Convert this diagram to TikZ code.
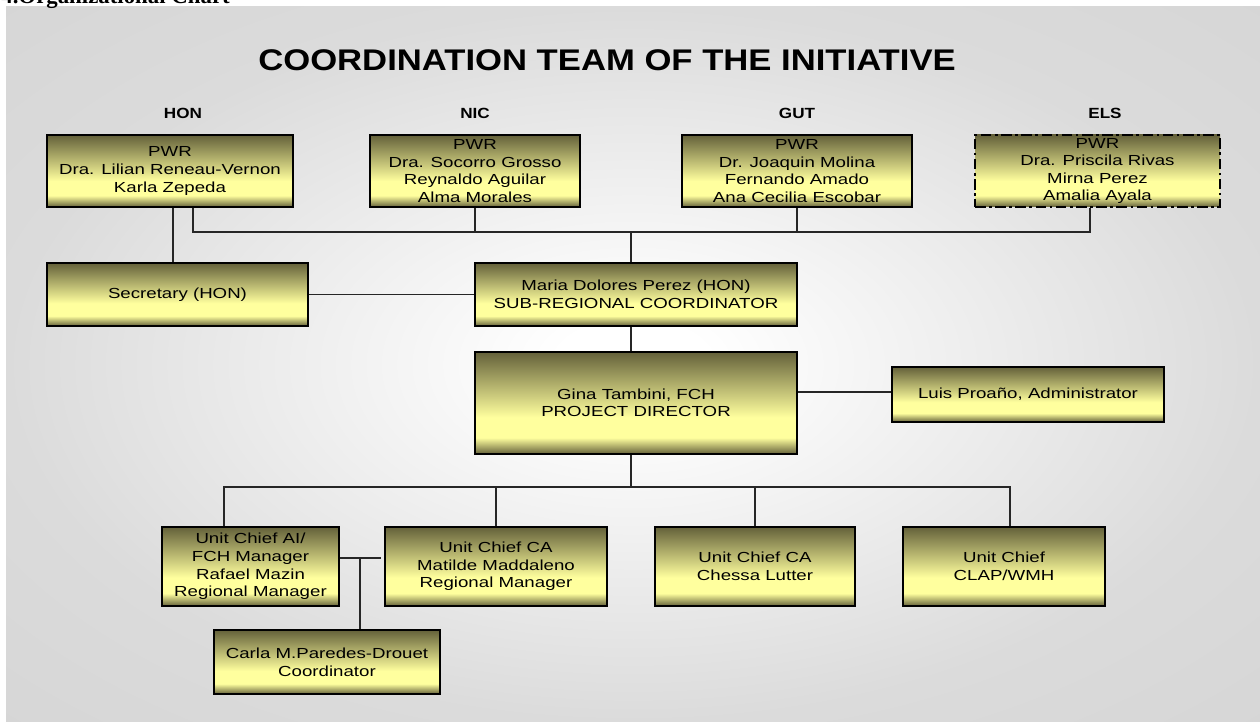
\documentclass[tikz,border=0pt]{standalone}
\usepackage{fontspec}
\setmainfont{Liberation Sans}
\newfontfamily\boxfont[FakeStretch=1.28]{Liberation Sans}
\newfontfamily\headfont[FakeStretch=1.16]{Liberation Sans}
\newfontfamily\capfont{Liberation Serif}

\definecolor{olivedk}{RGB}{100,97,58}
\definecolor{olivelt}{RGB}{255,255,158}
\definecolor{panelgray}{RGB}{219,219,219}
\definecolor{panelgraydk}{RGB}{214,214,214}

% box fill: dark top and bottom edges, pale yellow band below the middle
\pgfdeclareverticalshading{boxshade}{100bp}{color(0bp)=(olivedk); color(25bp)=(olivedk); color(33bp)=(olivelt); color(43bp)=(olivelt); color(75bp)=(olivedk); color(100bp)=(olivedk)}
% panel fill: white centre fading to light grey
\pgfdeclareradialshading{panelshade}{\pgfpoint{0bp}{0bp}}{color(0bp)=(white); color(3bp)=(white); color(25bp)=(panelgray); color(36bp)=(panelgraydk); color(60bp)=(panelgraydk)}

\begin{document}
\begin{tikzpicture}[x=0.02cm,y=-0.02cm,
  box/.style={draw=black, line width=0.8pt, shading=boxshade, align=center,
    font=\boxfont\fontsize{8.3}{10}\selectfont, inner sep=0pt},
  sz/.style 2 args={minimum width=#1*0.02cm, minimum height=#2*0.02cm},
  conn/.style={draw=black!85, line width=0.65pt},
  head/.style={font=\headfont\bfseries\fontsize{8.4}{10}\selectfont, inner sep=0pt}]
\useasboundingbox (0,0) rectangle (1260,722);

% background panel
\shade[shading=panelshade] (6,7) rectangle (1260,722);

% heading line above the panel
\node[anchor=base west, inner sep=0pt, font=\capfont\bfseries\fontsize{13}{15}\selectfont] (chartcap) at (1,3.5) {4.Organizational Chart};

% title and country labels
\node[inner sep=0pt, font=\headfont\bfseries\fontsize{17}{20}\selectfont] (title) at (607,60) {COORDINATION TEAM OF THE INITIATIVE};
\node[head] (lhon) at (183,113) {HON};
\node[head] (lnic) at (475,113) {NIC};
\node[head] (lgut) at (797,113) {GUT};
\node[head] (lels) at (1105,113) {ELS};

% country boxes
\node[box, sz={246}{72}] (hon) at (170,171) {PWR\\Dra. Lilian Reneau-Vernon\\Karla Zepeda};
\node[box, sz={210}{72}] (nic) at (475,171) {PWR\\Dra. Socorro Grosso\\Reynaldo Aguilar\\Alma Morales};
\node[box, sz={230}{72}] (gut) at (797,171) {PWR\\Dr. Joaquin Molina\\Fernando Amado\\Ana Cecilia Escobar};
\node[box, sz={245}{72}, dash pattern=on 6pt off 2pt on 1.5pt off 2pt] (els) at (1097.5,171) {PWR\\Dra. Priscila Rivas\\Mirna Perez\\Amalia Ayala};

% coordination level
\node[box, sz={261}{63}] (sec) at (177.5,294.5) {Secretary (HON)};
\node[box, sz={322}{63}] (maria) at (636,294.5) {Maria Dolores Perez (HON)\\SUB-REGIONAL COORDINATOR};
\node[box, sz={322}{102}] (gina) at (636,403) {Gina Tambini, FCH\\PROJECT DIRECTOR};
\node[box, sz={272}{55}] (luis) at (1028,394.5) {Luis Proaño, Administrator};

% units
\node[box, sz={177}{79}] (ai) at (250.5,566.5) {Unit Chief AI/\\FCH Manager\\Rafael Mazin\\Regional Manager};
\node[box, sz={222}{79}] (ca) at (496,566.5) {Unit Chief CA\\Matilde Maddaleno\\Regional Manager};
\node[box, sz={200}{79}] (chessa) at (755,566.5) {Unit Chief CA\\Chessa Lutter};
\node[box, sz={202}{79}] (clap) at (1004,566.5) {Unit Chief\\CLAP/WMH};
\node[box, sz={226}{64}] (carla) at (327,662) {Carla M.Paredes-Drouet\\Coordinator};

% upper bus joining the country boxes
\coordinate (busL) at (193,232);
\coordinate (busR) at (1090,232);
\coordinate (trunkU) at (631,232);
\coordinate (secx) at (173,232);
\draw[conn] (hon.south -| busL) -- (busL) -- (busR) -- (els.south -| busR);
\draw[conn] (nic.south) -- (nic.south |- busL);
\draw[conn] (gut.south) -- (gut.south |- busL);
\draw[conn] (trunkU) -- (maria.north -| trunkU);
\draw[conn] (hon.south -| secx) -- (sec.north -| secx);
\draw[conn] (sec.east) -- (maria.west);

% director level
\coordinate (trunkL) at (631,487);
\coordinate (glink) at (800,392);
\draw[conn] (maria.south -| trunkL) -- (gina.north -| trunkL);
\draw[conn] (gina.east |- glink) -- (luis.west |- glink);

% lower bus joining the units
\coordinate (lbusL) at (224,487);
\coordinate (lbusR) at (1010,487);
\draw[conn] (gina.south -| trunkL) -- (trunkL);
\draw[conn] (ai.north -| lbusL) -- (lbusL) -- (lbusR) -- (clap.north -| lbusR);
\draw[conn] (ca.north) -- (ca.north |- lbusL);
\draw[conn] (chessa.north) -- (chessa.north |- lbusL);

% coordinator branch
\coordinate (aiend) at (381,558);
\coordinate (cdrop) at (360,558);
\draw[conn] (ai.east |- aiend) -- (aiend);
\draw[conn] (cdrop) -- (carla.north -| cdrop);
\end{tikzpicture}
\end{document}
